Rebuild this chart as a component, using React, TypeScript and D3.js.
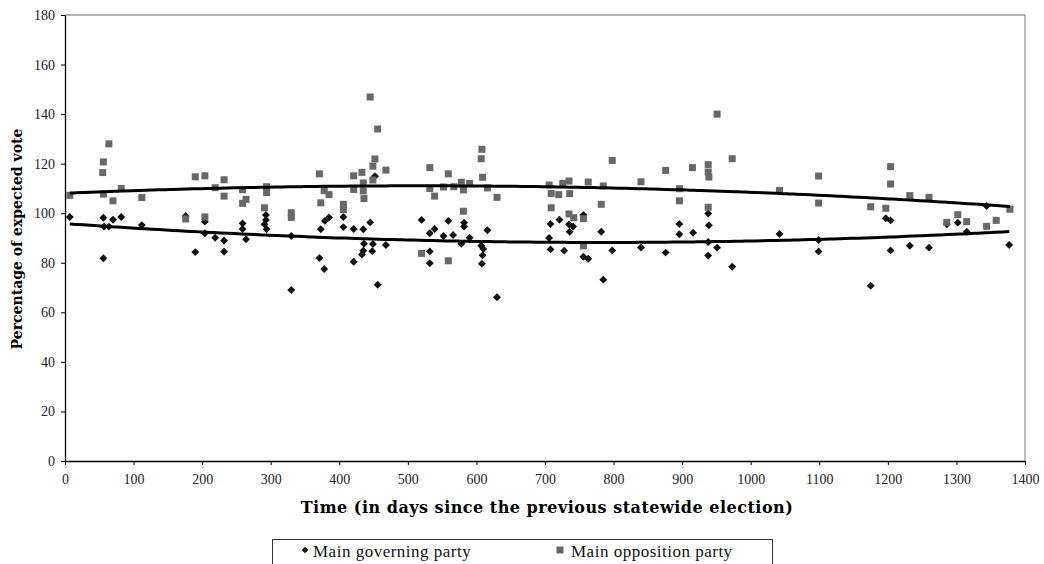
import React, { useEffect, useRef } from 'react';
import * as d3 from 'd3';

// main governing party (diamonds)
const govDays = [7, 56, 57, 64, 70, 82, 56, 112, 176, 190, 204, 204, 219, 232, 232, 259, 259, 264,
  293, 293, 291, 294, 330, 330, 373, 379, 385, 371, 378, 406, 406, 421, 435, 445, 436, 449, 448, 435,
  433, 421, 468, 456, 452, 520, 532, 539, 532, 532, 552, 559, 566, 578, 582, 582, 590, 607, 610, 609,
  608, 616, 630, 706, 708, 708, 721, 728, 735, 736, 741, 756, 756, 763, 782, 785, 798, 840, 876, 896,
  896, 916, 938, 939, 938, 938, 951, 973, 1042, 1099, 1099, 1175, 1197, 1204, 1204, 1232, 1260, 1286,
  1302, 1315, 1344, 1377];
const govPct = [98.5, 98.2, 94.6, 94.6, 97.4, 98.5, 81.8, 95.2, 98.9, 84.3, 96.6, 91.9, 90.1, 89.0, 84.5, 95.9, 93.6, 89.5,
  99.3, 97.3, 95.5, 93.5, 90.8, 69.0, 93.5, 96.9, 98.3, 81.9, 77.5, 98.5, 94.4, 93.6, 93.5, 96.3, 87.7, 87.6, 84.7, 84.9,
  83.3, 80.4, 87.2, 71.1, 114.9, 97.3, 91.9, 93.6, 84.6, 79.8, 90.8, 96.9, 91.2, 87.7, 96.2, 94.6, 90.1, 86.9, 85.6, 83.0,
  79.6, 93.1, 66.1, 90.0, 95.6, 85.4, 97.4, 84.9, 95.5, 92.5, 94.6, 99.3, 82.4, 81.6, 92.5, 73.2, 85.0, 86.2, 84.1, 95.6,
  91.5, 92.1, 99.9, 95.1, 88.4, 82.9, 86.1, 78.4, 91.6, 89.2, 84.6, 70.7, 98.0, 97.1, 85.0, 86.9, 86.1, 95.5,
  96.2, 92.5, 102.9, 87.2];

// main opposition party (squares)
const oppDays = [7, 64, 56, 55, 56, 70, 82, 112, 190, 204, 176, 204, 219, 232, 232, 259, 264, 259,
  445, 456, 294, 294, 291, 330, 330, 371, 378, 385, 373, 406, 406, 421, 433, 421, 435, 435, 436, 449,
  452, 449, 468, 532, 532, 539, 552, 559, 520, 559, 567, 578, 590, 581, 581, 608, 607, 609, 616, 630,
  706, 709, 720, 726, 735, 736, 709, 735, 742, 756, 756, 763, 785, 782, 798, 840, 876, 896, 896, 915,
  938, 938, 939, 938, 951, 973, 1042, 1099, 1099, 1175, 1197, 1204, 1204, 1232, 1260, 1286, 1302, 1315,
  1344, 1358, 1378];
const oppPct = [107.2, 128.0, 120.7, 116.4, 107.7, 105.0, 110.0, 106.3, 114.7, 115.1, 97.7, 98.5, 110.3, 113.5, 106.9, 109.5, 105.6, 104.0,
  146.9, 134.0, 110.7, 108.3, 102.2, 100.2, 98.3, 115.9, 109.1, 107.5, 104.2, 103.6, 101.4, 115.1, 116.5, 109.6, 112.2, 109.0, 105.9, 119.0,
  121.9, 113.4, 117.4, 118.4, 110.0, 106.9, 110.6, 115.9, 83.8, 80.8, 110.7, 112.5, 112.0, 109.4, 100.8, 125.8, 122.0, 114.5, 110.2, 106.4,
  111.4, 108.0, 107.5, 112.0, 113.0, 107.9, 102.2, 99.7, 98.2, 97.8, 86.8, 112.6, 111.0, 103.6, 121.3, 112.7, 117.3, 109.9, 105.0, 118.4,
  119.6, 116.6, 114.6, 102.4, 140.0, 122.0, 109.2, 115.0, 104.1, 102.6, 102.0, 118.8, 111.8, 107.1, 106.4, 96.3, 99.4, 96.6,
  94.7, 97.1, 101.6];

const xTicks = [0, 100, 200, 300, 400, 500, 600, 700, 800, 900, 1000, 1100, 1200, 1300, 1400];
const yTicks = [0, 20, 40, 60, 80, 100, 120, 140, 160, 180];
const seriesNames = ['Main governing party', 'Main opposition party'];
const xTitle = 'Time (in days since the previous statewide election)';
const yTitle = 'Percentage of expected vote';

// least squares 2nd order polynomial (like the spreadsheet trendline)
function quadFit(xs: number[], ys: number[]) {
  const s = [0, 0, 0, 0, 0];
  const t = [0, 0, 0];
  xs.forEach((xv, i) => {
    const u = xv / 1000;
    for (let k = 0; k < 5; k++) s[k] += Math.pow(u, k);
    for (let k = 0; k < 3; k++) t[k] += ys[i] * Math.pow(u, k);
  });
  const m = [
    [s[0], s[1], s[2], t[0]],
    [s[1], s[2], s[3], t[1]],
    [s[2], s[3], s[4], t[2]],
  ];
  for (let c = 0; c < 3; c++) {
    for (let r = c + 1; r < 3; r++) {
      const f = m[r][c] / m[c][c];
      for (let k = c; k < 4; k++) m[r][k] -= f * m[c][k];
    }
  }
  const b = [0, 0, 0];
  for (let r = 2; r >= 0; r--) {
    let v = m[r][3];
    for (let k = r + 1; k < 3; k++) v -= m[r][k] * b[k];
    b[r] = v / m[r][r];
  }
  return (xv: number) => { const u = xv / 1000; return b[0] + b[1] * u + b[2] * u * u; };
}

const serif = '"Liberation Serif", "Times New Roman", serif';
const boldFont = '"DejaVu Serif", serif';

export default function App() {
  const svgRef = useRef<SVGSVGElement>(null);

  useEffect(() => {
    const svg = d3.select(svgRef.current);
    svg.selectAll('*').remove();

    const x = d3.scaleLinear().domain([0, 1400]).range([65, 1025]);
    const y = d3.scaleLinear().domain([0, 180]).range([461, 15]);

    svg.append('rect').attr('width', 1044).attr('height', 564).attr('fill', '#fff');

    // plot area frame (top / right)
    svg.append('path')
      .attr('d', `M${x(0)},${y(180)}H${x(1400)}V${y(0)}`)
      .attr('fill', 'none')
      .attr('stroke', '#9a9a9a')
      .attr('stroke-width', 1.3);

    const yAxis = svg.append('g')
      .attr('transform', `translate(${x(0)},0)`)
      .call(d3.axisLeft(y).tickValues(yTicks).tickSize(4).tickSizeOuter(0).tickPadding(6));
    const xAxis = svg.append('g')
      .attr('transform', `translate(0,${y(0)})`)
      .call(d3.axisBottom(x).tickValues(xTicks).tickFormat(d3.format('d')).tickSize(4).tickSizeOuter(0).tickPadding(9));

    [yAxis, xAxis].forEach(g => {
      g.select('.domain').attr('stroke', '#000').attr('stroke-width', 1.3);
      g.selectAll('.tick line').attr('stroke', '#000');
      g.selectAll('.tick text')
        .attr('font-family', serif)
        .attr('font-size', 14)
        .attr('fill', '#222');
    });

    // governing party diamonds
    const diamond = d3.symbol().type(d3.symbolDiamond2).size(40);
    svg.append('g')
      .selectAll('path')
      .data(govDays)
      .join('path')
      .attr('d', diamond)
      .attr('transform', (d, i) => `translate(${x(d)},${y(govPct[i])})`)
      .attr('fill', '#111');

    // opposition party squares
    svg.append('g')
      .selectAll('rect')
      .data(oppDays)
      .join('rect')
      .attr('x', d => x(d) - 3.5)
      .attr('y', (d, i) => y(oppPct[i]) - 3.5)
      .attr('width', 7)
      .attr('height', 7)
      .attr('fill', '#686868');

    // trendlines
    const fits = [
      { f: quadFit(govDays, govPct), xs: govDays },
      { f: quadFit(oppDays, oppPct), xs: oppDays },
    ];
    fits.forEach(({ f, xs }) => {
      const lo = d3.min(xs) as number;
      const hi = d3.max(xs) as number;
      const pts = d3.range(lo, hi + 1, 10).concat([hi]);
      svg.append('path')
        .datum(pts)
        .attr('d', d3.line<number>().x(d => x(d)).y(d => y(f(d))).curve(d3.curveMonotoneX))
        .attr('fill', 'none')
        .attr('stroke', '#000')
        .attr('stroke-width', 3);
    });

    // axis titles
    svg.append('text')
      .attr('x', 547)
      .attr('y', 513)
      .attr('text-anchor', 'middle')
      .attr('font-family', boldFont)
      .attr('font-weight', 'bold')
      .attr('font-size', 16)
      .attr('letter-spacing', 0.5)
      .text(xTitle);

    svg.append('text')
      .attr('transform', 'translate(22,239) rotate(-90)')
      .attr('text-anchor', 'middle')
      .attr('font-family', boldFont)
      .attr('font-weight', 'bold')
      .attr('font-size', 14)
      .text(yTitle);

    // legend
    const lg = svg.append('g');
    lg.append('rect')
      .attr('x', 272.5).attr('y', 539.5)
      .attr('width', 500).attr('height', 40)
      .attr('fill', '#fff')
      .attr('stroke', '#333');
    lg.append('path')
      .attr('d', d3.symbol().type(d3.symbolDiamond2).size(28)())
      .attr('transform', 'translate(305,550)')
      .attr('fill', '#111');
    lg.append('rect')
      .attr('x', 556.5).attr('y', 546.5)
      .attr('width', 7).attr('height', 7)
      .attr('fill', '#686868');
    lg.selectAll('text')
      .data(seriesNames)
      .join('text')
      .attr('x', (d, i) => (i === 0 ? 313 : 571))
      .attr('y', 557)
      .attr('font-family', serif)
      .attr('font-size', 17)
      .attr('letter-spacing', 0.5)
      .attr('fill', '#111')
      .text(d => d);
  }, []);

  return (
    <div>
      <style>{'body{margin:0}'}</style>
      <svg ref={svgRef} width={1044} height={564} style={{ display: 'block' }} />
    </div>
  );
}
